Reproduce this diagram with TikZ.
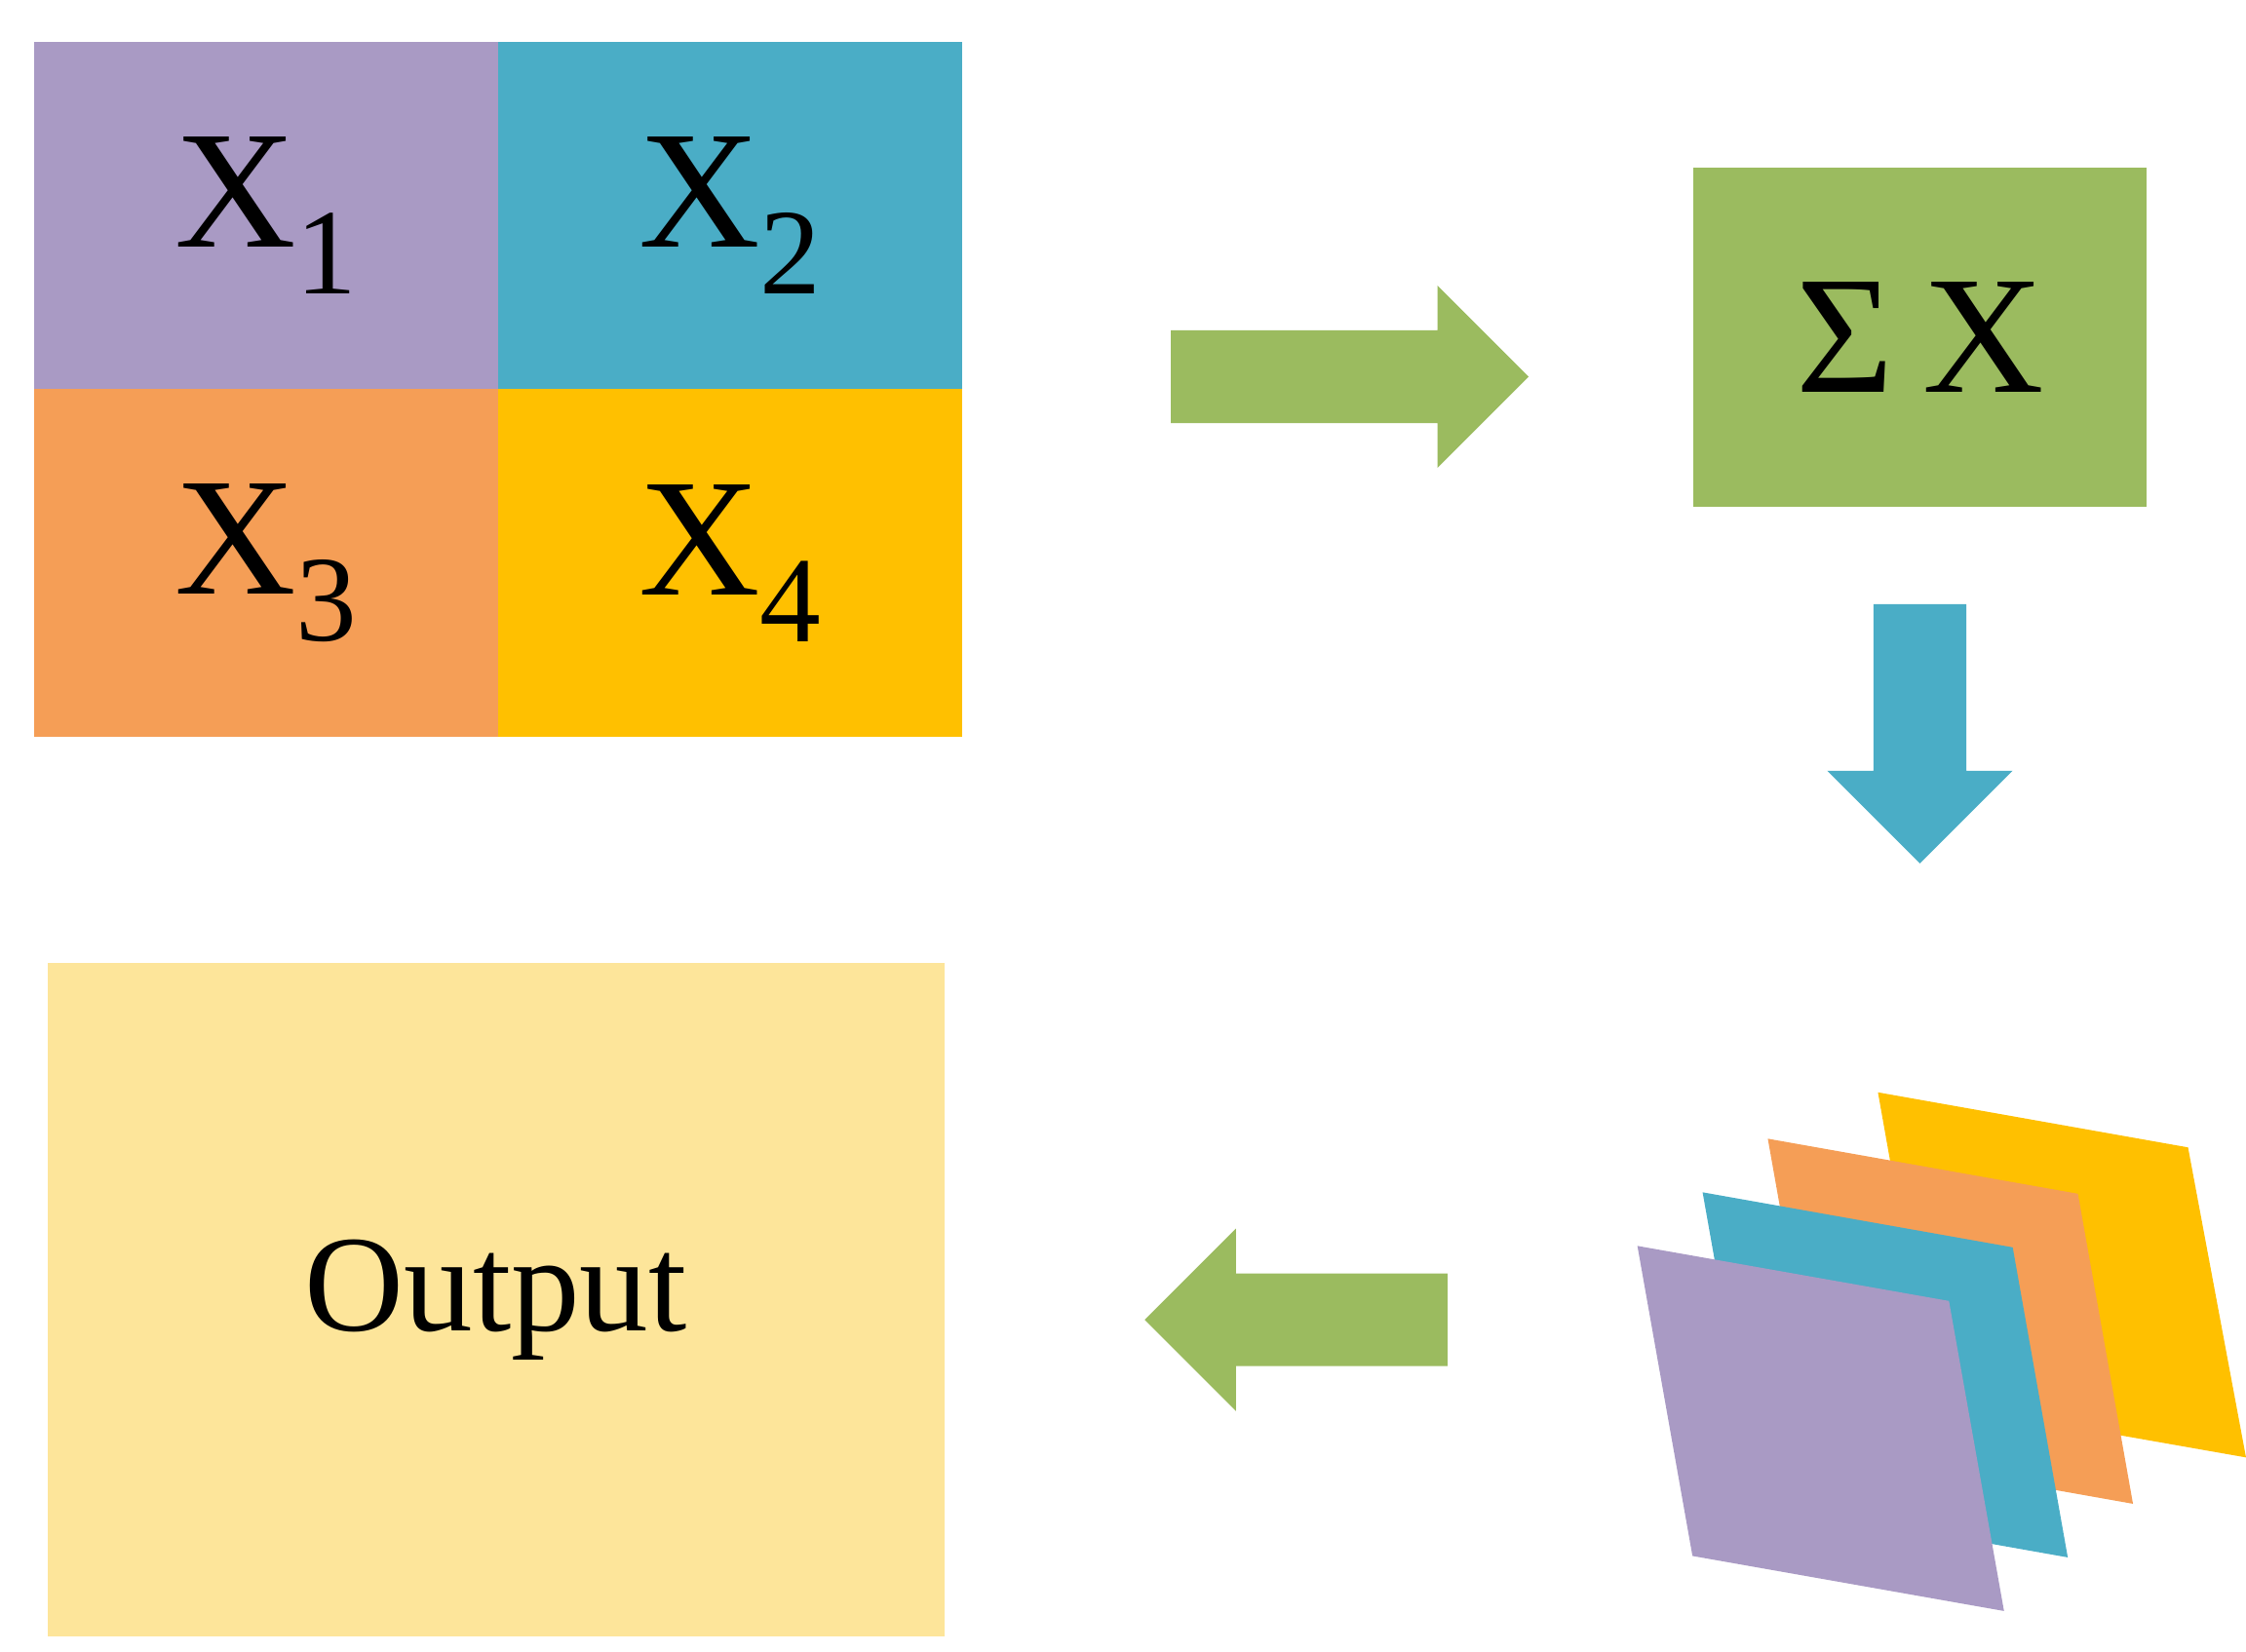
\documentclass[tikz,border=0pt]{standalone}
\usepackage{fontspec}
\setmainfont{Liberation Serif}
\definecolor{cpur}{HTML}{A99AC4}
\definecolor{cteal}{HTML}{4AADC6}
\definecolor{corg}{HTML}{F59E56}
\definecolor{cyel}{HTML}{FFC000}
\definecolor{cgrn}{HTML}{9BBB5F}
\definecolor{clyel}{HTML}{FDE59A}
\newcommand{\xs}[1]{X\raisebox{-0.28em}{\fontsize{24}{24}\selectfont #1}}
\begin{document}
\begin{tikzpicture}[x=0.01cm,y=-0.01cm,
  cell/.style={draw=none,inner sep=0,anchor=north west,minimum width=320*0.01cm,minimum height=240*0.01cm,font=\fontsize{33}{33}\selectfont},
  box/.style={draw=none,inner sep=0,anchor=north west}]
\useasboundingbox (0,0) rectangle (1550,1140);
\node[cell,fill=cpur] (x1) at (23,28) {\xs{1}};
\node[cell,fill=cteal] (x2) at (343,28) {\xs{2}};
\node[cell,fill=corg] (x3) at (23,268) {\xs{3}};
\node[cell,fill=cyel] (x4) at (343,268) {\xs{4}};
\node[box,fill=cgrn,minimum width=313*0.01cm,minimum height=234*0.01cm,font=\fontsize{33}{33}\selectfont] (sum) at (1168,115) {Σ\,X};
\node[box,fill=clyel,minimum width=619*0.01cm,minimum height=465*0.01cm,font=\fontsize{27}{27}\selectfont] (out) at (32,664) {Output};
% arrows
\fill[cgrn] (808,228) -- (992,228) -- (992,197) -- (1055,260) -- (992,323) -- (992,292) -- (808,292) -- cycle;
\fill[cteal] (1293,417) -- (1357,417) -- (1357,532) -- (1389,532) -- (1325,596) -- (1261,532) -- (1293,532) -- cycle;
\fill[cgrn] (999,879) -- (853,879) -- (853,848) -- (790,911) -- (853,974) -- (853,943) -- (999,943) -- cycle;
% stacked planes
\fill[cyel] (1296,754) -- (1510,792) -- (1550,1006) -- (1334,968) -- cycle;
\fill[corg] (1220,786) -- (1434,824) -- (1472,1038) -- (1258,1000) -- cycle;
\fill[cteal] (1175,823) -- (1389,861) -- (1427,1075) -- (1213,1037) -- cycle;
\fill[cpur] (1130,860) -- (1345,898) -- (1383,1112) -- (1168,1074) -- cycle;
\end{tikzpicture}
\end{document}
